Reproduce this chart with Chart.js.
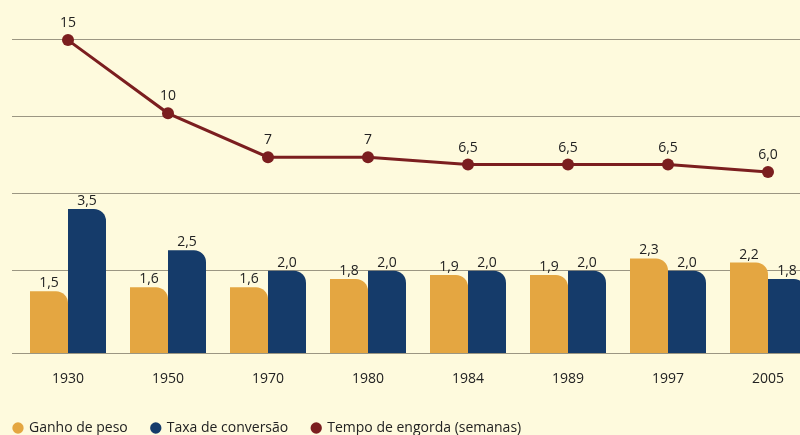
<!DOCTYPE html>
<html>
<head>
<meta charset="utf-8">
<script src="https://cdn.jsdelivr.net/npm/chart.js@4/dist/chart.umd.min.js"></script>
<style>
  html, body { margin: 0; padding: 0; background: #fefadd; overflow: hidden; }
  #wrap { width: 820px; height: 435px; position: relative; }
</style>
</head>
<body>
<div id="wrap"><canvas id="chart"></canvas></div>
<script>
const anos = ['1930', '1950', '1970', '1980', '1984', '1989', '1997', '2005'];
const ganhoPeso = [1.5, 1.6, 1.6, 1.8, 1.9, 1.9, 2.3, 2.2];
const taxaConversao = [3.5, 2.5, 2.0, 2.0, 2.0, 2.0, 2.0, 1.8];
const tempoEngorda = [15, 10, 7, 7, 6.5, 6.5, 6.5, 6.0];
const tempoRotulos = ['15', '10', '7', '7', '6,5', '6,5', '6,5', '6,0'];
const gridTicks = [0, 5, 10, 15];

const laranja = '#e4a641';
const azul = '#153b6a';
const vermelho = '#7b1e1f';
const corTexto = '#222';
const fonte = "'Open Sans', 'Noto Sans', sans-serif";

const fmt = v => v.toFixed(1).replace('.', ',');

// rotulos de valor em cima das barras e pontos
const rotulos = {
  id: 'rotulos',
  afterDatasetsDraw(chart) {
    const ctx = chart.ctx;
    ctx.save();
    ctx.font = '14px ' + fonte;
    ctx.fillStyle = corTexto;
    ctx.textAlign = 'center';
    ctx.textBaseline = 'bottom';
    chart.data.datasets.forEach((ds, i) => {
      const meta = chart.getDatasetMeta(i);
      meta.data.forEach((el, j) => {
        if (ds.type === 'line') {
          ctx.fillText(tempoRotulos[j], el.x, el.y - 10);
        } else {
          ctx.fillText(fmt(ds.data[j]), el.x, el.y - 1);
        }
      });
    });
    ctx.restore();
  }
};

new Chart(document.getElementById('chart'), {
  data: {
    labels: anos,
    datasets: [
      {
        type: 'bar',
        label: 'Ganho de peso',
        data: ganhoPeso,
        backgroundColor: laranja,
        borderRadius: { topRight: 12 },
        yAxisID: 'yBar',
        order: 1
      },
      {
        type: 'bar',
        label: 'Taxa de conversão',
        data: taxaConversao,
        backgroundColor: azul,
        borderRadius: { topRight: 12 },
        yAxisID: 'yBar',
        order: 1
      },
      {
        type: 'line',
        label: 'Tempo de engorda (semanas)',
        data: tempoEngorda,
        borderColor: vermelho,
        backgroundColor: vermelho,
        borderWidth: 3,
        tension: 0,
        pointRadius: 6,
        pointHoverRadius: 6,
        pointBackgroundColor: vermelho,
        pointBorderWidth: 0,
        yAxisID: 'yLine',
        order: 0
      }
    ]
  },
  options: {
    responsive: true,
    maintainAspectRatio: false,
    animation: false,
    events: [],
    layout: { autoPadding: false, padding: { left: -10, right: 2, top: 0, bottom: 0 } },
    datasets: {
      bar: { categoryPercentage: 0.76, barPercentage: 1.0 }
    },
    scales: {
      x: {
        grid: { display: false, drawTicks: false },
        border: { display: false },
        ticks: { color: corTexto, font: { family: fonte, size: 14 }, padding: 18 },
        afterFit: axis => { axis.height = 44; }
      },
      yGrid: {
        position: 'left',
        min: -5.325,
        max: 17.53,
        afterBuildTicks: axis => {
          axis.ticks = [axis.min].concat(gridTicks).map(v => ({ value: v }));
        },
        afterFit: axis => { axis.width = 28; },
        grid: { color: '#9b9682', lineWidth: 1, drawTicks: true, tickLength: 6 },
        border: { display: false },
        ticks: { display: false }
      },
      yBar: {
        display: false,
        min: 0,
        max: 8.585
      },
      yLine: {
        display: false,
        min: -6.37,
        max: 17.74
      }
    },
    plugins: {
      tooltip: { enabled: false },
      legend: {
        position: 'bottom',
        align: 'start',
        maxHeight: 38,
        labels: {
          usePointStyle: true,
          pointStyle: 'circle',
          boxWidth: 8,
          boxHeight: 8,
          padding: 24,
          color: corTexto,
          font: { family: fonte, size: 14 },
          sort: (a, b) => a.datasetIndex - b.datasetIndex,
          generateLabels: chart => Chart.defaults.plugins.legend.labels.generateLabels(chart).map(l => {
            l.lineWidth = 0;
            l.pointStyle = 'circle';
            return l;
          })
        }
      }
    }
  },
  plugins: [rotulos]
});
</script>
</body>
</html>
